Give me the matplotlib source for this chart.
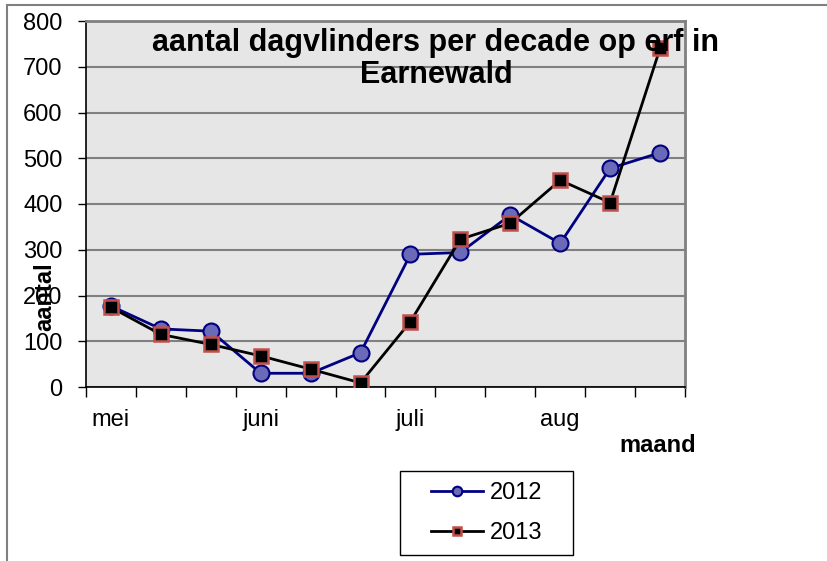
import matplotlib
matplotlib.use('Agg')
import matplotlib.pyplot as plt
from matplotlib.patches import Rectangle

plt.rcParams['font.family'] = ['Liberation Sans', 'DejaVu Sans']

# ------------------------------------------------------------------------------
# data: butterflies per decade (10-day period), May - Aug
decades  = ['mei', '', '', 'juni', '', '', 'juli', '', '', 'aug', '', '']
y2012    = [177, 127, 122, 30, 30, 75, 290, 294, 376, 314, 478, 512]
y2013    = [174, 115,  93, 68, 39,  9, 143, 323, 358, 452, 403, 740]
series   = ['2012', '2013']

W, H = 828, 561

fig = plt.figure(figsize=(W / 100, H / 100), dpi=100)

# outer chart border (cut off at right / bottom like the original)
fig.patches.append(Rectangle((7 / W, -0.05), 1.1, 1 - 5 / H + 0.05,
                             transform=fig.transFigure, fill=False,
                             edgecolor='#808080', linewidth=1.5))

ax = fig.add_axes([86 / W, 1 - 387 / H, (685 - 86) / W, (387 - 21) / H])
ax.set_facecolor('#e6e6e6')

x = list(range(len(decades)))
ax.plot(x, y2012, '-o', color='#000080', linewidth=2,
        markersize=11.5, markerfacecolor='#6a6ab8', markeredgecolor='#000080',
        markeredgewidth=1.5, label=series[0], zorder=3)
ax.plot(x, y2013, '-s', color='black', linewidth=2,
        markersize=10, markerfacecolor='black', markeredgecolor='#c0504d',
        markeredgewidth=1.8, label=series[1], zorder=4)

ax.set_ylim(0, 800)
ax.set_yticks(range(0, 801, 100))
ax.yaxis.grid(True, color='#808080', linewidth=1.5)
ax.set_axisbelow(True)

ax.set_xlim(-0.5, len(decades) - 0.5)
ax.set_xticks([i - 0.5 for i in range(len(decades) + 1)])
ax.set_xticklabels([])
ax.set_xticks(x, minor=True)
ax.set_xticklabels(decades, minor=True)
ax.tick_params(axis='x', which='major', direction='out', length=7, width=1)
ax.tick_params(axis='x', which='minor', length=0, pad=16, labelsize=17)
ax.tick_params(axis='y', direction='out', length=6, width=1, pad=11,
               labelsize=17)

for s in ['left', 'bottom']:
    ax.spines[s].set_color('black')
    ax.spines[s].set_linewidth(1.2)
for s in ['top', 'right']:
    ax.spines[s].set_color('#808080')
    ax.spines[s].set_linewidth(2)

fig.text(436 / W, 1 - 59 / H, 'aantal dagvlinders per decade op erf in\nEarnewald',
         ha='center', va='center', fontsize=22, fontweight='bold',
         linespacing=1.08)
fig.text(45 / W, 1 - 297 / H, 'aantal', rotation=90, ha='center', va='center',
         fontsize=17, fontweight='bold')
fig.text(658 / W, 1 - 445 / H, 'maand', ha='center', va='center',
         fontsize=17, fontweight='bold')

# legend box drawn separately, Excel-style padding
fig.patches.append(Rectangle((400 / W, 1 - 555 / H), 173 / W, 84 / H,
                             transform=fig.transFigure, facecolor='white',
                             edgecolor='black', linewidth=1, zorder=5))
leg = fig.legend(loc='center', bbox_to_anchor=(487 / W, 1 - 513 / H),
                 fontsize=17, markerscale=0.6, handlelength=2.2,
                 handletextpad=0.3, frameon=False, labelspacing=0.75,
                 borderpad=0.4, borderaxespad=0)
leg.set_zorder(6)

fig.savefig('out.png', dpi=100)
